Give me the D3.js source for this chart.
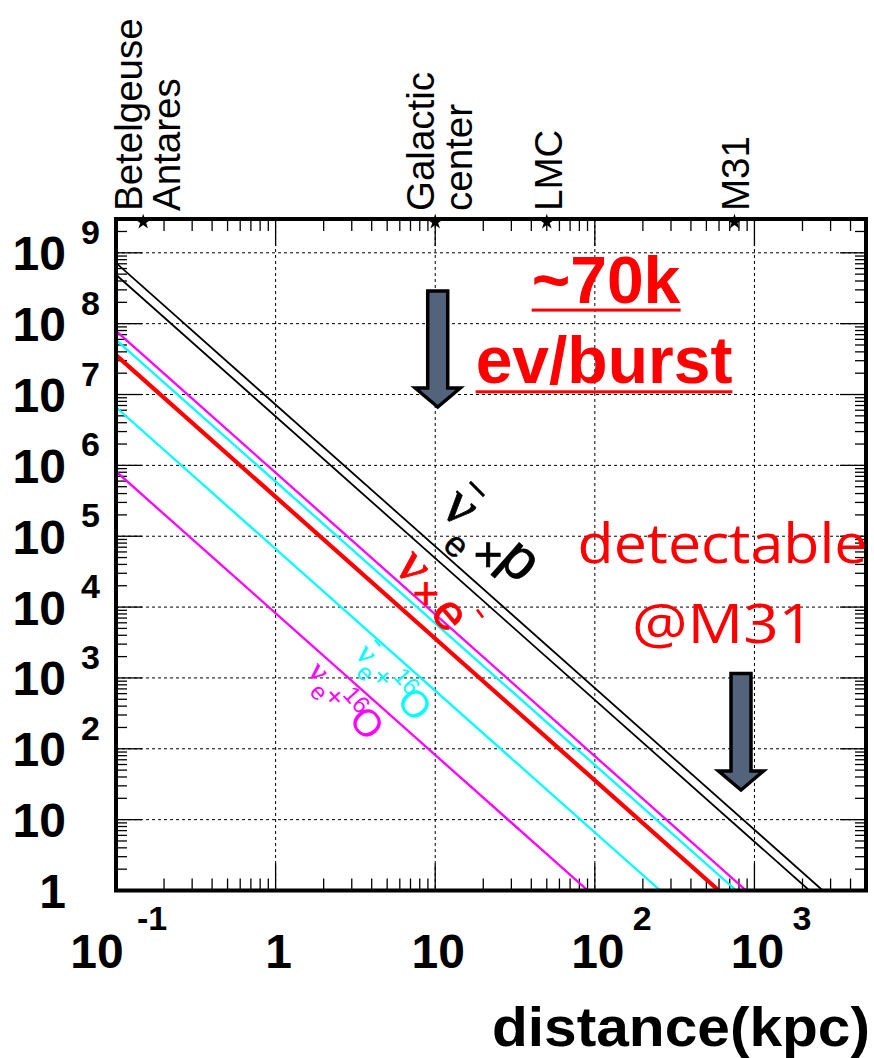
<!DOCTYPE html>
<html><head><meta charset="utf-8">
<script src="https://cdn.jsdelivr.net/npm/d3@7"></script>
<style>body{margin:0;background:#fff}</style>
</head><body>
<svg id="c" width="874" height="1058" xmlns="http://www.w3.org/2000/svg"></svg>
<script>
// ---------------- data ----------------
const seriesNames = ["nuebar_p_upper", "nuebar_p_lower", "magenta_upper", "cyan_upper", "nu_e", "nuebar_16O", "nue_16O"];
const eventsAtStart = [7.2e8, 4.9e8, 7.9e7, 5.9e7, 3.6e7, 6.6e6, 8.2e5];   // events at 0.1 kpc
const startDistance = [0.1, 0.1, 0.1, 0.1, 0.1, 0.1, 0.1];
const distanceAtOneEvent = [2680, 2210, 887, 769, 598, 257, 90.4];        // kpc where curve reaches 1 event
const seriesColors = ["#000000", "#000000", "#ff00ff", "#00ffff", "#ff0000", "#00ffff", "#ff00ff"];
const seriesWidths = [1.8, 1.8, 2.3, 2.3, 4.2, 2.3, 2.3];

const markerDistances = [0.148, 10, 50, 750];
const markerLabels = [["Betelgeuse", "Antares"], ["Galactic", "center"], ["LMC"], ["M31"]];

const xTickValues = [0.1, 1, 10, 100, 1000];
const xTickBase = ["10", "1", "10", "10", "10"];
const xTickExp = ["-1", "", "", "2", "3"];

const yTickValues = [1, 10, 1e2, 1e3, 1e4, 1e5, 1e6, 1e7, 1e8, 1e9];
const yTickBase = ["1", "10", "10", "10", "10", "10", "10", "10", "10", "10"];
const yTickExp = ["", "", "2", "3", "4", "5", "6", "7", "8", "9"];

// ---------------- setup ----------------
const svg = d3.select("#c");
const L = 116, R = 866, T = 219, B = 890.5;
const x = d3.scaleLog().domain([0.1, 5000]).range([L, R]);
const y = d3.scaleLog().domain([1, 3e9]).range([B, T]);
const SANS = "'Liberation Sans', Arial, Helvetica, sans-serif";
const SERIF = "'Liberation Serif', 'DejaVu Serif', serif";
const OPEN = "'Open Sans', 'Noto Sans', sans-serif";

svg.append("rect").attr("width", 874).attr("height", 1058).attr("fill", "#fff");
svg.append("defs").append("clipPath").attr("id", "plot")
  .append("rect").attr("x", L).attr("y", T).attr("width", R - L).attr("height", B - T);

// grid
const gGrid = svg.append("g").attr("stroke", "#000").attr("stroke-width", 1).attr("stroke-dasharray", "3 3");
xTickValues.filter(v => v > 0.1).forEach(v => {
  gGrid.append("line").attr("x1", x(v)).attr("x2", x(v)).attr("y1", T).attr("y2", B);
});
yTickValues.filter(v => v > 1).forEach(v => {
  gGrid.append("line").attr("y1", y(v)).attr("y2", y(v)).attr("x1", L).attr("x2", R);
});

// ticks
const isMajor = v => Math.abs(Math.log10(v) - Math.round(Math.log10(v))) < 1e-9;
const gT = svg.append("g").attr("stroke", "#000").attr("stroke-width", 1.3);
x.ticks(40).forEach(v => {
  const len = isMajor(v) ? 27 : 12;
  gT.append("line").attr("x1", x(v)).attr("x2", x(v)).attr("y1", B).attr("y2", B - len);
  gT.append("line").attr("x1", x(v)).attr("x2", x(v)).attr("y1", T).attr("y2", T + len);
});
y.ticks(40).forEach(v => {
  const len = isMajor(v) ? 26 : 11;
  gT.append("line").attr("y1", y(v)).attr("y2", y(v)).attr("x1", L).attr("x2", L + len);
  gT.append("line").attr("y1", y(v)).attr("y2", y(v)).attr("x1", R).attr("x2", R - len);
});

// series lines
const line = d3.line().x(d => x(d[0])).y(d => y(d[1]));
const gLines = svg.append("g").attr("clip-path", "url(#plot)");
seriesNames.forEach((name, i) => {
  const pts = [[startDistance[i], eventsAtStart[i]], [distanceAtOneEvent[i], 1]];
  gLines.append("path").datum(pts).attr("d", line)
    .attr("fill", "none").attr("stroke", seriesColors[i]).attr("stroke-width", seriesWidths[i]);
});

// frame
svg.append("rect").attr("x", L).attr("y", T).attr("width", R - L).attr("height", B - T)
  .attr("fill", "none").attr("stroke", "#000").attr("stroke-width", 4);

// x tick labels
xTickValues.forEach((v, i) => {
  const neg = xTickExp[i].startsWith("-");
  const cx = x(v) + (neg ? -19 : 3);
  svg.append("text").attr("x", cx).attr("y", 968).attr("text-anchor", "middle")
    .attr("font-family", SANS).attr("font-weight", "bold").attr("font-size", 48).text(xTickBase[i]);
  if (xTickExp[i]) {
    svg.append("text").attr("x", cx + (neg ? 40 : 35)).attr("y", 930).attr("text-anchor", "start")
      .attr("font-family", SANS).attr("font-weight", "bold").attr("font-size", 34).text(xTickExp[i]);
  }
});
// y tick labels
yTickValues.forEach((v, i) => {
  const yy = y(v);
  svg.append("text").attr("x", 66).attr("y", yy + 17.5).attr("text-anchor", "end")
    .attr("font-family", SANS).attr("font-weight", "bold").attr("font-size", 48).text(yTickBase[i]);
  if (yTickExp[i]) {
    svg.append("text").attr("x", 81).attr("y", yy - 9).attr("text-anchor", "start")
      .attr("font-family", SANS).attr("font-weight", "bold").attr("font-size", 34).text(yTickExp[i]);
  }
});

// axis title
svg.append("text").attr("x", 870).attr("y", 1046).attr("text-anchor", "end")
  .attr("font-family", SANS).attr("font-weight", "bold").attr("font-size", 55)
  .attr("textLength", 378).attr("lengthAdjust", "spacingAndGlyphs").text("distance(kpc)");

// markers on top axis
markerDistances.forEach((d, i) => {
  const mx = x(d);
  svg.append("path").attr("d", d3.symbol(d3.symbolStar).size(75)())
    .attr("transform", `translate(${mx},${T + 3})`).attr("fill", "#000");
  const labs = markerLabels[i];
  labs.forEach((t, j) => {
    const bx = labs.length === 1 ? mx + 15 : mx - 1 + j * 37.5;
    svg.append("text").attr("transform", `translate(${bx},211) rotate(-90)`)
      .attr("font-family", SANS).attr("font-size", 38.5).attr("fill", "#000").text(t);
  });
});

// ---------------- annotations ----------------
// glyph centred (ink) at (cx,cy); ang = text rotation, h = ink centre height above baseline (em)
function glyph(txt, cx, cy, size, ang, h, color, family, sw) {
  const a = ang * Math.PI / 180;
  const bx = cx - Math.sin(a) * h * size, by = cy + Math.cos(a) * h * size;
  svg.append("text").attr("x", bx).attr("y", by).attr("text-anchor", "middle")
    .attr("transform", `rotate(${ang},${bx},${by})`)
    .attr("font-family", family || SANS)
    .attr("font-size", size).attr("fill", color)
    .attr("stroke", sw ? color : "none").attr("stroke-width", sw || 0).text(txt);
}
function bar(cx, cy, len, ang, w, color) {
  const a = ang * Math.PI / 180, dx = Math.cos(a) * len / 2, dy = Math.sin(a) * len / 2;
  svg.append("line").attr("x1", cx - dx).attr("y1", cy - dy).attr("x2", cx + dx).attr("y2", cy + dy)
    .attr("stroke", color).attr("stroke-width", w);
}

// black: anti-nu_e + p
glyph("ν", 458, 510, 60, 41.6, 0.23, "#000", SERIF, 0.8);
bar(477, 489, 20, 45, 3, "#000");
glyph("e", 455, 547, 36, 41.6, 0.26, "#000", SANS, 0.4);
glyph("+", 488, 554, 50, 0, 0.33, "#000", SANS, 0.6);
glyph("p", 514, 567, 58, 41.6, 0.155, "#000", SANS, 0.8);

// red: nu + e-
glyph("ν", 411, 569, 56, 50, 0.23, "#ff0000", SERIF, 0.8);
glyph("+", 426, 594, 46, 0, 0.33, "#ff0000", SANS, 0.6);
glyph("e", 448, 616, 50, 50, 0.26, "#ff0000", SANS, 0.6);
bar(480, 613.5, 10, 54, 2.8, "#ff0000");

// cyan: anti-nu_e + 16O
glyph("ν", 364.5, 655.5, 32, 48, 0.23, "#00ffff", SERIF, 0.4);
bar(377.5, 643, 8, 48, 2, "#00ffff");
glyph("e", 364, 674, 24, 48, 0.26, "#00ffff");
glyph("+", 382.5, 677.5, 28, 48, 0.33, "#00ffff");
glyph("16", 407, 681, 24, 48, 0.36, "#00ffff");
glyph("O", 415, 703.5, 38, 48, 0.36, "#00ffff");

// magenta: nu_e + 16O
glyph("ν", 316.7, 673.3, 32, 48, 0.23, "#ff00ff", SERIF, 0.4);
glyph("e", 317.5, 693.3, 24, 48, 0.26, "#ff00ff");
glyph("+", 334.5, 697, 28, 48, 0.33, "#ff00ff");
glyph("16", 357, 699.5, 24, 48, 0.36, "#ff00ff");
glyph("O", 367.5, 722.5, 38, 48, 0.36, "#ff00ff");

// block arrows
function arrow(cx, top, headTop, tip) {
  const sw = 10, hw = 22.5;
  const p = `M${cx - sw},${top} L${cx + sw},${top} L${cx + sw},${headTop} L${cx + hw},${headTop} L${cx},${tip} L${cx - hw},${headTop} L${cx - sw},${headTop} Z`;
  svg.append("path").attr("d", p).attr("fill", "#53637c").attr("stroke", "#000")
    .attr("stroke-width", 3.5).attr("stroke-linejoin", "miter");
}
arrow(x(10) + 2.5, 291, 388, 407);
arrow(x(markerDistances[3]) + 6.5, 673.5, 771, 790);

// red texts
const t1 = svg.append("text").attr("x", 606).attr("y", 303).attr("text-anchor", "middle")
  .attr("font-family", SANS).attr("font-weight", "bold").attr("font-size", 66).attr("fill", "#ff0000").text("~70k");
const t2 = svg.append("text").attr("x", 604).attr("y", 383).attr("text-anchor", "middle")
  .attr("font-family", SANS).attr("font-weight", "bold").attr("font-size", 66).attr("fill", "#ff0000").text("ev/burst");
[[t1, 308.6], [t2, 390.3]].forEach(([t, uy]) => {
  const bb = t.node().getBBox();
  svg.append("rect").attr("x", bb.x).attr("y", uy).attr("width", bb.width).attr("height", 3)
    .attr("fill", "#ff0000");
});
svg.append("text").attr("x", 722.5).attr("y", 563).attr("text-anchor", "middle")
  .attr("font-family", OPEN).attr("font-size", 54).attr("fill", "#ff0000")
  .attr("textLength", 290).attr("lengthAdjust", "spacingAndGlyphs").text("detectable");
svg.append("text").attr("x", 723).attr("y", 643).attr("text-anchor", "middle")
  .attr("font-family", OPEN).attr("font-size", 54).attr("fill", "#ff0000")
  .attr("textLength", 182).attr("lengthAdjust", "spacingAndGlyphs").text("@M31");
</script>
</body></html>
